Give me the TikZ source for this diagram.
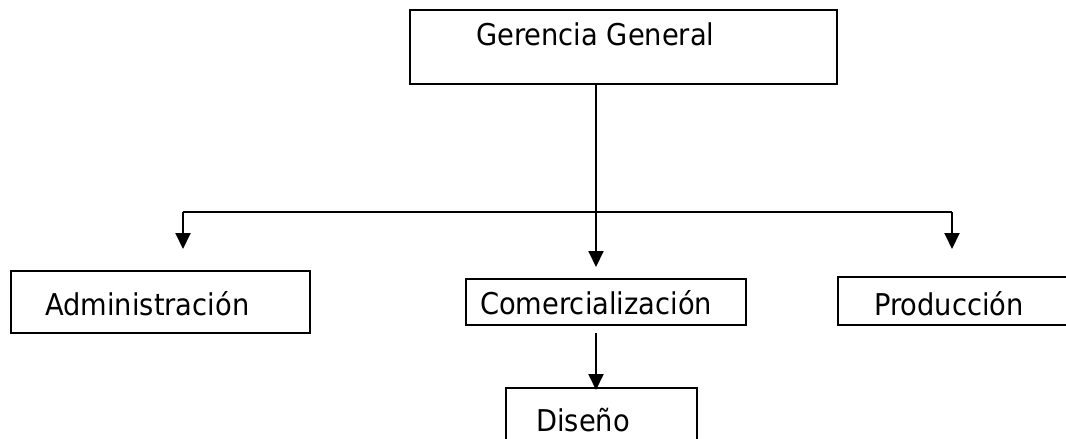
\documentclass[tikz,border=0pt]{standalone}
\usepackage{fontspec}
\setmainfont[FakeStretch=0.91]{DejaVu Sans}
\usetikzlibrary{arrows.meta}
\begin{document}
\begin{tikzpicture}[x=1pt,y=1pt,
  box/.style={draw=black,line width=2pt,inner sep=0pt,outer sep=0pt,fill=white},
  lbl/.style={anchor=base west,inner sep=0pt,font=\fontsize{30}{36}\selectfont},
  conn/.style={draw=black,line width=2pt},
  arr/.style={conn,-{Triangle[width=15pt,length=16pt]}}]
\useasboundingbox (0,0) rectangle (1066,-439);
\clip (0,0) rectangle (1066,-439);
\fill[white] (0,0) rectangle (1066,-439);
% boxes
\node[box,minimum width=427pt,minimum height=74pt] (ger) at (623.5,-47) {};
\node[box,minimum width=299pt,minimum height=62pt] (adm) at (160.5,-302) {};
\node[box,minimum width=280pt,minimum height=46pt] (com) at (606,-302) {};
\node[box,minimum width=240pt,minimum height=48pt] (pro) at (958,-301) {};
\node[box,minimum width=191pt,minimum height=70pt] (dis) at (601.5,-423) {};
% labels
\node[lbl] (tger) at (476,-45) {Gerencia General};
\node[lbl] (tadm) at (45,-315) {Administración};
\node[lbl] (tcom) at (480,-314) {Comercialización};
\node[lbl] (tpro) at (874,-315) {Producción};
\node[lbl] (tdis) at (536,-431) {Diseño};
% connectors
\coordinate (jL) at (183,-212);
\coordinate (jM) at (596,-212);
\coordinate (jR) at (952,-212);
\draw[conn] (jL) -- (jR);
\draw[conn] (ger.south -| jM) -- (jM);
\draw[arr] (jM) -- ([yshift=12pt]com.north -| jM);
\draw[arr] (jL) -- ([yshift=22pt]adm.north -| jL);
\draw[arr] (jR) -- ([yshift=28pt]pro.north -| jR);
\draw[arr] ([yshift=-8pt]com.south -| jM) -- ([yshift=-2pt]dis.north -| jM);
\end{tikzpicture}
\end{document}
